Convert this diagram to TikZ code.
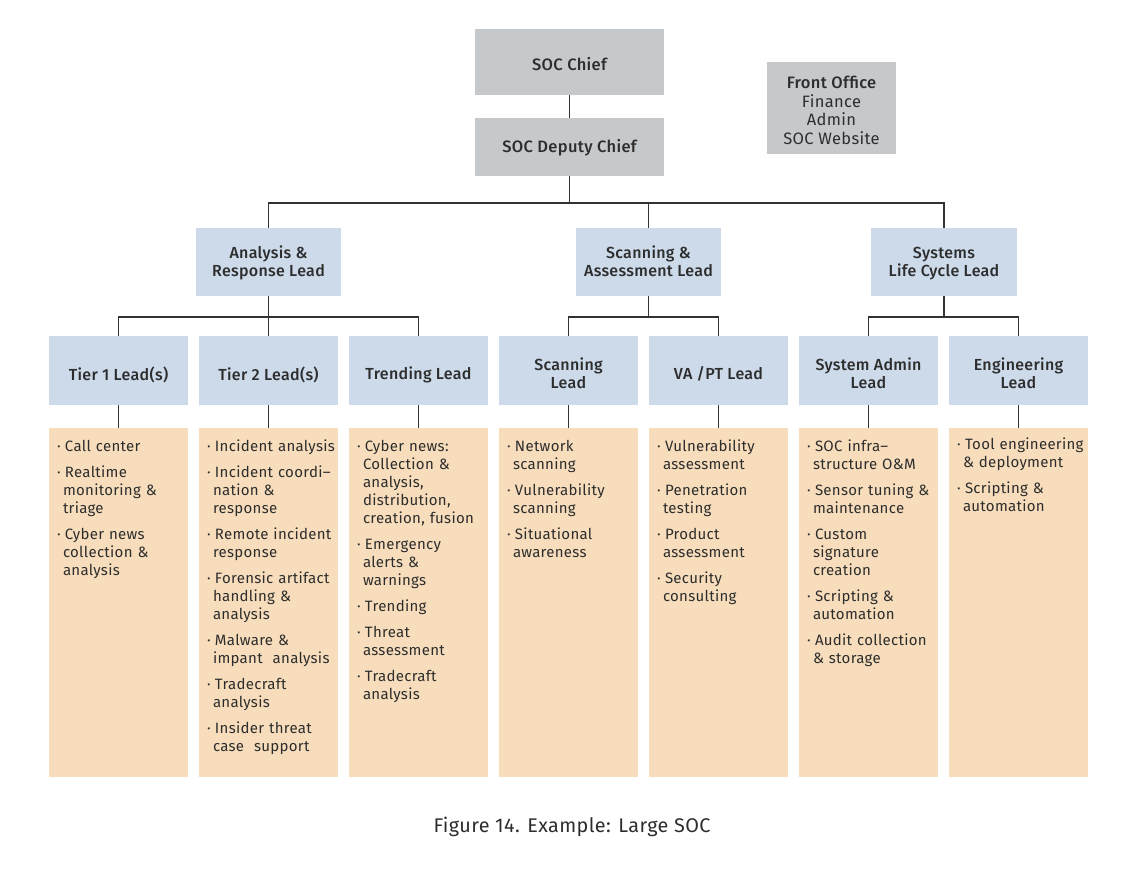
\documentclass[tikz,border=0pt]{standalone}
\usepackage{fontspec}
\setmainfont{Fira Sans}[BoldFont={Fira Sans Medium},LetterSpace=2]
\definecolor{grayc}{RGB}{198,201,204}
\definecolor{bluec}{RGB}{204,218,234}
\definecolor{orangec}{RGB}{247,221,187}
\definecolor{linec}{RGB}{50,50,50}
\definecolor{textc}{RGB}{45,45,45}
\newcommand\bitem[1]{\par\hangindent=6pt\hangafter=1\noindent\strut\makebox[8pt][l]{·}{\def\\{\hfil\break}#1}\par\vspace{8pt}}
\newcommand\tl[2]{\raisebox{-#1}[\height][\depth]{\begin{tabular}{@{}c@{}}#2\end{tabular}}}
\begin{document}
\begin{tikzpicture}[x=1pt,y=-1pt,
  every node/.style={inner sep=0pt,outer sep=0pt,text=textc},
  gbox/.style={fill=grayc,font=\fontsize{16.5}{18.5}\selectfont},
  bbox/.style={fill=bluec,minimum height=68pt,font=\fontsize{16}{18}\selectfont\bfseries},
  lbox/.style={fill=bluec,minimum width=139pt,minimum height=69pt,font=\fontsize{16}{18}\selectfont\bfseries},
  obox/.style={fill=orangec,minimum width=139pt,minimum height=349pt},
  list/.style={anchor=north west,text width=136pt,align=left,font=\fontsize{15}{18}\selectfont},
  conn/.style={draw=linec,line width=1.2pt}]
\useasboundingbox (0,0) rectangle (1125,884);

% top
\node[gbox,minimum width=189pt,minimum height=66pt] (chief) at (569.5,62) {\tl{5pt}{\bfseries SOC Chief}};
\node[gbox,minimum width=189pt,minimum height=58pt] (deputy) at (569.5,147) {\tl{2pt}{\bfseries SOC Deputy Chief}};
\node[gbox,minimum width=129pt,minimum height=92pt] (front) at (831.5,108) {\tl{5pt}{\bfseries Front Office\\Finance\\Admin\\SOC Website}};

% leads
\node[bbox,minimum width=145pt] (ar) at (268.5,262) {\tl{2pt}{Analysis \&\\Response Lead}};
\node[bbox,minimum width=145pt] (sa) at (648.5,262) {\tl{2pt}{Scanning \&\\Assessment Lead}};
\node[bbox,minimum width=146pt] (sys) at (944,262) {\tl{2pt}{Systems\\Life Cycle Lead}};

% level 3
\node[lbox] (t1) at (118.5,370.5) {\tl{5.5pt}{Tier 1 Lead(s)}};
\node[lbox] (t2) at (268.5,370.5) {\tl{5.5pt}{Tier 2 Lead(s)}};
\node[lbox] (tr) at (418.5,370.5) {\tl{5.5pt}{Trending Lead}};
\node[lbox] (sl) at (568.5,370.5) {\tl{5.5pt}{Scanning\\Lead}};
\node[lbox] (vp) at (718.5,370.5) {\tl{5.5pt}{VA /PT Lead}};
\node[lbox] (ad) at (868.5,370.5) {\tl{5.5pt}{System Admin\\Lead}};
\node[lbox] (en) at (1018.5,370.5) {\tl{5.5pt}{Engineering\\Lead}};

% task boxes
\node[obox] (o1) at (118.5,602.5) {};
\node[obox] (o2) at (268.5,602.5) {};
\node[obox] (o3) at (418.5,602.5) {};
\node[obox] (o4) at (568.5,602.5) {};
\node[obox] (o5) at (718.5,602.5) {};
\node[obox] (o6) at (868.5,602.5) {};
\node[obox] (o7) at (1018.5,602.5) {};

\node[list] (l1) at (57,433.5) {%
\bitem{Call center}
\bitem{Realtime\\monitoring \&\\triage}
\bitem{Cyber news\\collection \&\\analysis}};
\node[list] (l2) at (207,433.5) {%
\bitem{Incident analysis}
\bitem{Incident coordi--\\nation \&\\response}
\bitem{Remote incident\\response}
\bitem{Forensic artifact\\handling \&\\analysis}
\bitem{Malware \&\\impant\ \ analysis}
\bitem{Tradecraft\\analysis}
\bitem{Insider threat\\case\ \ support}};
\node[list] (l3) at (357,433.5) {%
\bitem{Cyber news:\\Collection \&\\analysis,\\distribution,\\creation, fusion}
\bitem{Emergency\\alerts \&\\warnings}
\bitem{Trending}
\bitem{Threat\\assessment}
\bitem{Tradecraft\\analysis}};
\node[list] (l4) at (507,433.5) {%
\bitem{Network\\scanning}
\bitem{Vulnerability\\scanning}
\bitem{Situational\\awareness}};
\node[list] (l5) at (657,433.5) {%
\bitem{Vulnerability\\assessment}
\bitem{Penetration\\testing}
\bitem{Product\\assessment}
\bitem{Security\\consulting}};
\node[list] (l6) at (807,433.5) {%
\bitem{SOC infra--\\structure O\&M}
\bitem{Sensor tuning \&\\maintenance}
\bitem{Custom\\signature\\creation}
\bitem{Scripting \&\\automation}
\bitem{Audit collection\\\& storage}};
\node[list] (l7) at (957,431.5) {%
\bitem{Tool engineering\\\& deployment}
\bitem{Scripting \&\\automation}};

% connectors
\coordinate (b0) at (569.5,203);
\coordinate (b1) at (268.5,317);
\coordinate (b2) at (648.5,317);
\coordinate (b3) at (944,317);
\draw[conn] (chief.south) -- (deputy.north);
\draw[conn] (deputy.south) -- (b0);
\draw[conn] (ar.north) |- (b0) -| (sys.north);
\draw[conn] (sa.north) -- (sa.north |- b0);
\draw[conn] (ar.south) -- (t2.north);
\draw[conn] (t1.north) |- (b1) -| (tr.north);
\draw[conn] (sa.south) -- (b2);
\draw[conn] (sl.north) |- (b2) -| (vp.north);
\draw[conn] (sys.south) -- (b3);
\draw[conn] (ad.north) |- (b3) -| (en.north);
\foreach \a/\b in {t1/o1,t2/o2,tr/o3,sl/o4,vp/o5,ad/o6,en/o7}
  \draw[conn] (\a.south) -- (\b.north);

% caption
\node[font=\fontsize{19.8}{24}\selectfont] (cap) at (572,827) {Figure 14. Example: Large SOC};
\end{tikzpicture}
\end{document}
